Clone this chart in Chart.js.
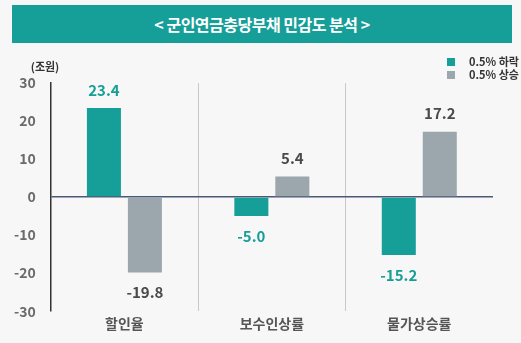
<!DOCTYPE html>
<html>
<head>
<meta charset="utf-8">
<script src="https://cdn.jsdelivr.net/npm/chart.js@4"></script>
<style>
  body { margin: 0; background: #f7f7f7; font-family: "Noto Sans CJK KR", sans-serif; }
  #wrap { position: relative; width: 521px; height: 343px; }
  #chart { position: absolute; left: 0; top: 0; }
  #title {
    position: absolute; left: 12px; top: 5px; width: 500px; height: 38px;
    background: #169e98; color: #fff; font-weight: 700; font-size: 16px;
    line-height: 38px; text-align: center; letter-spacing: -0.5px;
  }
</style>
</head>
<body>
<div id="wrap">
  <canvas id="chart" width="521" height="343"></canvas>
  <div id="title">&lt; 군인연금충당부채 민감도 분석 &gt;</div>
</div>
<script>
const categories = ["할인율", "보수인상률", "물가상승률"];
const seriesNames = ["0.5% 하락", "0.5% 상승"];
const dropValues = [23.4, -5.0, -15.2];
const riseValues = [-19.8, 5.4, 17.2];
const unitLabel = "(조원)";

const TEAL = "#169e98";
const GRAY = "#9ba6ad";
const FONT = "'Noto Sans CJK KR', sans-serif";

// numbers above / below each bar
const valueLabels = {
  id: "valueLabels",
  afterDatasetsDraw(chart) {
    const ctx = chart.ctx;
    ctx.save();
    ctx.font = "bold 15px " + FONT;
    ctx.textAlign = "center";
    ctx.textBaseline = "middle";
    chart.data.datasets.forEach((ds, di) => {
      ctx.fillStyle = di === 0 ? TEAL : "#4a4a4a";
      chart.getDatasetMeta(di).data.forEach((bar, i) => {
        const v = ds.data[i];
        const y = v >= 0 ? bar.y - 18 : bar.y + 20;
        ctx.fillText(v.toFixed(1), bar.x, y);
      });
    });
    ctx.restore();
  }
};

// unit text and the stacked legend in the top corners
const extras = {
  id: "extras",
  afterDraw(chart) {
    const ctx = chart.ctx;
    ctx.save();
    ctx.font = "bold 11px " + FONT;
    ctx.fillStyle = "#333";
    ctx.textAlign = "center";
    ctx.textBaseline = "middle";
    ctx.fillText(unitLabel, 45, 67);

    ctx.textAlign = "left";
    const colors = [TEAL, GRAY];
    seriesNames.forEach((name, i) => {
      const y = 62 + i * 13;
      ctx.fillStyle = colors[i];
      ctx.fillRect(447, y - 4, 8, 8);
      ctx.fillStyle = "#333";
      ctx.fillText(name, 469, y);
    });
    ctx.restore();
  }
};

new Chart(document.getElementById("chart").getContext("2d"), {
  type: "bar",
  data: {
    labels: categories,
    datasets: [
      { label: seriesNames[0], data: dropValues, backgroundColor: TEAL,
        categoryPercentage: 0.556, barPercentage: 0.83 },
      { label: seriesNames[1], data: riseValues, backgroundColor: GRAY,
        categoryPercentage: 0.556, barPercentage: 0.83 }
    ]
  },
  options: {
    responsive: false,
    animation: false,
    layout: { padding: { top: 83, left: -1, right: 28, bottom: 7 } },
    plugins: {
      legend: { display: false },
      tooltip: { enabled: false }
    },
    scales: {
      x: {
        offset: true,
        border: { display: false },
        grid: {
          offset: true,
          drawTicks: false,
          color: (c) => (c.index === 1 || c.index === 2) ? "#c9c9c9" : "rgba(0,0,0,0)"
        },
        ticks: { color: "#555", padding: 4, font: { family: FONT, size: 14, weight: "bold" } }
      },
      y: {
        min: -30,
        max: 30,
        border: { display: true, color: "#333", width: 1.5 },
        grid: {
          drawTicks: false,
          lineWidth: 1.5,
          color: (c) => c.tick && c.tick.value === 0 ? "#4b5878" : "rgba(0,0,0,0)"
        },
        ticks: { stepSize: 10, color: "#6b6b6b", padding: 15, font: { family: FONT, size: 14, weight: "bold" } }
      }
    }
  },
  plugins: [valueLabels, extras]
});
</script>
</body>
</html>
